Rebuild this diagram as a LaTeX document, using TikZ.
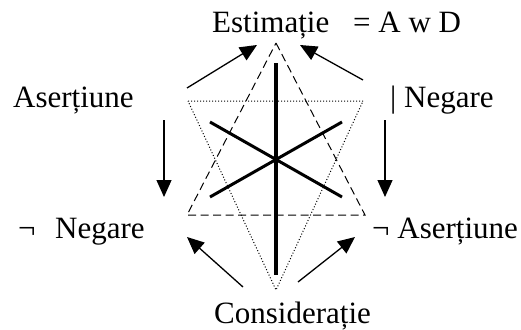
\documentclass[tikz,border=0pt]{standalone}
\usepackage{fontspec}
\setmainfont{Liberation Serif}
\usetikzlibrary{arrows.meta}
\begin{document}
\begin{tikzpicture}[x=1pt,y=-1pt,
  lbl/.style={inner sep=0pt,anchor=base west,font=\fontsize{31}{36}\selectfont},
  arr/.style={line width=1.3pt,-{Triangle[length=17pt,width=15pt]}},
  thick line/.style={line width=4pt},
  diag/.style={line width=3pt}]
\useasboundingbox (0,0) rectangle (521,329);
% labels
\node[lbl] (est) at (212,33) {Estimație};
\node[lbl] (awd) at (353,33) {= A w D};
\node[lbl] (as1) at (13,107) {Aserțiune};
\node[lbl] (neg1) at (390,107) {| Negare};
\node[lbl] (negs) at (18,238) {¬};
\node[lbl] (neg2) at (55,238) {Negare};
\node[lbl] (as2) at (372,238) {¬ Aserțiune};
\node[lbl] (cons) at (214,323) {Considerație};
% triangles
\coordinate (dA) at (276,43);
\coordinate (dL) at (187,215);
\coordinate (dR) at (365,215);
\draw[line width=1pt,dash pattern=on 8pt off 4.5pt] (dA) -- (dR) -- (dL) -- cycle;
\coordinate (tL) at (188,101);
\coordinate (tR) at (363,101);
\coordinate (tB) at (276,290);
\draw[line width=1pt,dotted] (tL) -- (tR) -- (tB) -- cycle;
% star
\coordinate (vT) at (276,63);
\coordinate (vB) at (276,275);
\draw[thick line] (vT) -- (vB);
\coordinate (d1) at (210,122);
\coordinate (d2) at (342,197);
\coordinate (d3) at (342,122);
\coordinate (d4) at (210,197);
\draw[diag] (d1) -- (d2);
\draw[diag] (d3) -- (d4);
% arrows
\coordinate (a1s) at (187,88);  \coordinate (a1e) at (257,45);
\coordinate (a2s) at (363,80);  \coordinate (a2e) at (300,45);
\coordinate (a3s) at (164,120); \coordinate (a3e) at (164,197);
\coordinate (a4s) at (385,120); \coordinate (a4e) at (385,197);
\coordinate (a5s) at (243,287); \coordinate (a5e) at (187,237);
\coordinate (a6s) at (298,282); \coordinate (a6e) at (355,237);
\draw[arr] (a1s) -- (a1e);
\draw[arr] (a2s) -- (a2e);
\draw[arr] (a3s) -- (a3e);
\draw[arr] (a4s) -- (a4e);
\draw[arr] (a5s) -- (a5e);
\draw[arr] (a6s) -- (a6e);
\end{tikzpicture}
\end{document}
